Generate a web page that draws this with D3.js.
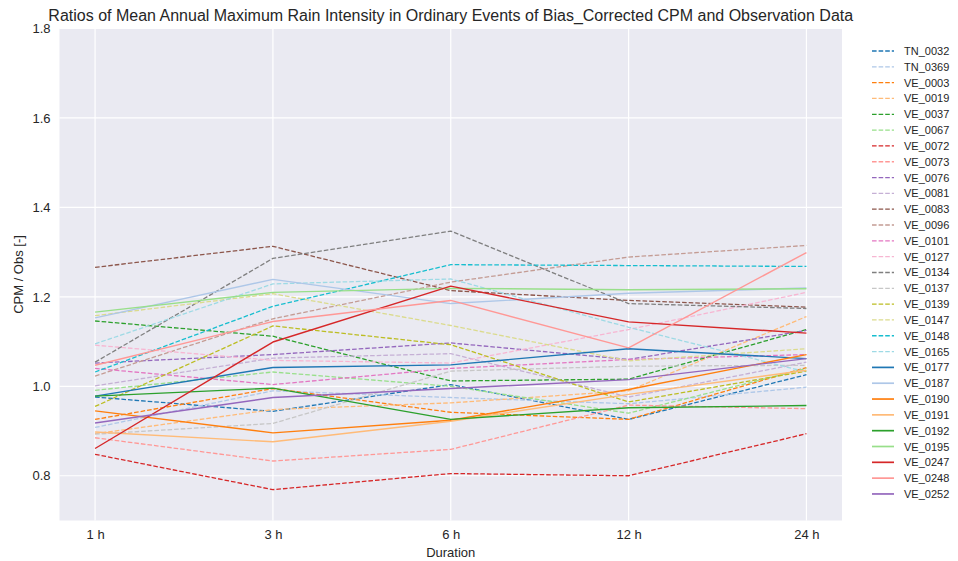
<!DOCTYPE html>
<html>
<head>
<meta charset="utf-8">
<script src="https://cdn.jsdelivr.net/npm/d3@7"></script>
<style>
  html, body { margin: 0; padding: 0; background: #ffffff; }
  svg { display: block; font-family: "Liberation Sans", Arial, sans-serif; }
</style>
</head>
<body>
<svg id="chart" width="958" height="561"></svg>
<script>
// Durations on the x axis
const durations = ["1 h", "3 h", "6 h", "12 h", "24 h"];

// Station names, in legend order
const stations = [
  "TN_0032", "TN_0369", "VE_0003", "VE_0019", "VE_0037", "VE_0067", "VE_0072",
  "VE_0073", "VE_0076", "VE_0081", "VE_0083", "VE_0096", "VE_0101", "VE_0127",
  "VE_0134", "VE_0137", "VE_0139", "VE_0147", "VE_0148", "VE_0165", "VE_0177",
  "VE_0187", "VE_0190", "VE_0191", "VE_0192", "VE_0195", "VE_0247", "VE_0248",
  "VE_0252"
];

// CPM / Obs ratios per station, one value per duration
const ratios = [
  [0.976, 0.944, 1.004, 0.926, 1.026], // TN_0032
  [0.908, 0.990, 0.975, 0.961, 0.998], // TN_0369
  [0.926, 0.995, 0.942, 0.926, 1.042], // VE_0003
  [0.894, 0.948, 0.963, 0.990, 1.156], // VE_0019
  [1.146, 1.112, 1.012, 1.016, 1.127], // VE_0037
  [0.991, 1.032, 1.000, 0.940, 1.040], // VE_0067
  [0.848, 0.769, 0.805, 0.800, 0.894], // VE_0072
  [0.885, 0.833, 0.859, 0.958, 0.950], // VE_0073
  [1.052, 1.071, 1.097, 1.060, 1.125], // VE_0076
  [1.001, 1.063, 1.073, 0.976, 1.054], // VE_0081
  [1.266, 1.313, 1.214, 1.192, 1.177], // VE_0083
  [1.023, 1.151, 1.233, 1.289, 1.315], // VE_0096
  [1.040, 1.004, 1.040, 1.060, 1.071], // VE_0101
  [1.092, 1.058, 1.052, 1.127, 1.210], // VE_0127
  [1.054, 1.286, 1.347, 1.185, 1.174], // VE_0134
  [0.893, 0.917, 1.034, 1.045, 1.047], // VE_0137
  [0.955, 1.135, 1.093, 0.965, 1.034], // VE_0139
  [1.158, 1.207, 1.136, 1.057, 1.084], // VE_0147
  [1.032, 1.179, 1.272, 1.270, 1.268], // VE_0148
  [1.095, 1.229, 1.240, 1.132, 1.032], // VE_0165
  [0.978, 1.042, 1.048, 1.084, 1.062], // VE_0177
  [1.153, 1.239, 1.185, 1.208, 1.220], // VE_0187
  [0.945, 0.896, 0.924, 0.993, 1.071], // VE_0190
  [0.898, 0.876, 0.922, 0.982, 1.036], // VE_0191
  [0.978, 0.996, 0.926, 0.952, 0.957], // VE_0192
  [1.166, 1.210, 1.219, 1.216, 1.218], // VE_0195
  [0.861, 1.099, 1.224, 1.144, 1.119], // VE_0247
  [1.047, 1.145, 1.192, 1.086, 1.299], // VE_0248
  [0.918, 0.975, 0.995, 1.015, 1.062]  // VE_0252
];

// Stations from this index onward are drawn with solid lines
const firstSolid = 20;

const yTicks = [0.8, 1.0, 1.2, 1.4, 1.6, 1.8];

// tab20 colour cycle
const palette = [
  "#1f77b4", "#aec7e8", "#ff7f0e", "#ffbb78", "#2ca02c", "#98df8a", "#d62728",
  "#ff9896", "#9467bd", "#c5b0d5", "#8c564b", "#c49c94", "#e377c2", "#f7b6d2",
  "#7f7f7f", "#c7c7c7", "#bcbd22", "#dbdb8d", "#17becf", "#9edae5"
];

const svg = d3.select("#chart");
const plot = { left: 59.5, right: 842, top: 28.5, bottom: 520.5 };
const textColor = "#262626";
const labelSize = 13;

const idx = d3.range(durations.length);
const x = d3.scaleLinear().domain([-0.2, durations.length - 1 + 0.2]).range([plot.left, plot.right]);
const y = d3.scaleLinear().domain([0.7, 1.8]).range([plot.bottom, plot.top]);

// Axes background
svg.append("rect")
  .attr("x", plot.left).attr("y", plot.top)
  .attr("width", plot.right - plot.left).attr("height", plot.bottom - plot.top)
  .attr("fill", "#eaeaf2");

// Grid lines
const grid = svg.append("g");
grid.selectAll("line.v").data(idx).join("line")
  .attr("x1", d => x(d)).attr("x2", d => x(d))
  .attr("y1", plot.top).attr("y2", plot.bottom)
  .attr("stroke", "#ffffff").attr("stroke-width", 1.2);
grid.selectAll("line.h").data(yTicks).join("line")
  .attr("x1", plot.left).attr("x2", plot.right)
  .attr("y1", d => y(d)).attr("y2", d => y(d))
  .attr("stroke", "#ffffff").attr("stroke-width", 1.2);

// Axes (tick labels only, seaborn darkgrid style)
const xAxis = svg.append("g")
  .attr("transform", `translate(0,${plot.bottom})`)
  .call(d3.axisBottom(x).tickValues(idx).tickFormat(i => durations[i]).tickSize(0).tickPadding(9));
const yAxis = svg.append("g")
  .attr("transform", `translate(${plot.left},0)`)
  .call(d3.axisLeft(y).tickValues(yTicks).tickFormat(d3.format(".1f")).tickSize(0).tickPadding(9));
[xAxis, yAxis].forEach(g => {
  g.select(".domain").remove();
  g.selectAll("text").attr("fill", textColor).attr("font-size", labelSize)
    .attr("font-family", "'Liberation Sans', Arial, sans-serif");
});

// Series lines
const line = d3.line().x((d, i) => x(i)).y(d => y(d));
const lines = svg.append("g");
stations.forEach((name, s) => {
  const dashed = s < firstSolid;
  lines.append("path")
    .datum(ratios[s])
    .attr("d", line)
    .attr("fill", "none")
    .attr("stroke", palette[s % 20])
    .attr("stroke-width", dashed ? 1.3 : 1.4)
    .attr("stroke-dasharray", dashed ? "4.6,2" : null)
    .attr("stroke-linejoin", "round");
});

// Title and axis labels
svg.append("text")
  .attr("x", (plot.left + plot.right) / 2).attr("y", 21)
  .attr("text-anchor", "middle").attr("font-size", 16).attr("fill", textColor)
  .text("Ratios of Mean Annual Maximum Rain Intensity in Ordinary Events of Bias_Corrected CPM and Observation Data");
svg.append("text")
  .attr("x", (plot.left + plot.right) / 2).attr("y", 557)
  .attr("text-anchor", "middle").attr("font-size", labelSize).attr("fill", textColor)
  .text("Duration");
svg.append("text")
  .attr("transform", `translate(23,${(plot.top + plot.bottom) / 2}) rotate(-90)`)
  .attr("text-anchor", "middle").attr("font-size", labelSize).attr("fill", textColor)
  .text("CPM / Obs [-]");

// Legend
const legend = svg.append("g").attr("transform", "translate(872,51)");
const legendStep = 15.82;
stations.forEach((name, s) => {
  const dashed = s < firstSolid;
  const row = legend.append("g").attr("transform", `translate(0,${s * legendStep})`);
  row.append("line")
    .attr("x1", 0).attr("x2", 22).attr("y1", 0).attr("y2", 0)
    .attr("stroke", palette[s % 20])
    .attr("stroke-width", dashed ? 1.3 : 1.7)
    .attr("stroke-dasharray", dashed ? "4.6,2" : null);
  row.append("text")
    .attr("x", 32).attr("y", 4)
    .attr("font-size", 11).attr("fill", textColor)
    .text(name);
});
</script>
</body>
</html>
